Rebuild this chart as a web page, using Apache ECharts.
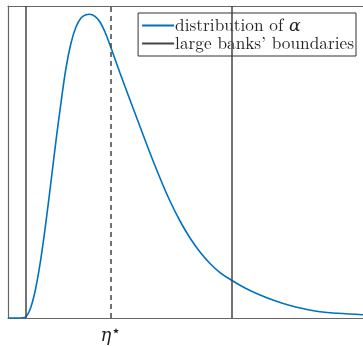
<!DOCTYPE html>
<html>
<head>
<meta charset="utf-8">
<script src="https://cdn.jsdelivr.net/npm/echarts@6/dist/echarts.min.js"></script>
<style>
  html, body { margin: 0; padding: 0; background: #fff; }
  #chart { width: 363px; height: 346px; }
</style>
</head>
<body>
<div id="chart"></div>
<script>
// Density of alpha (normalised units)
const alphaX = [0, 0.0282, 0.0394, 0.0507, 0.0648, 0.0789, 0.0930, 0.1070, 0.1211, 0.1352, 0.1493, 0.1634, 0.1775, 0.1915, 0.2056, 0.2197, 0.2290, 0.2451, 0.2592, 0.2732, 0.2873, 0.3014, 0.3155, 0.3437, 0.3718, 0.4000, 0.4282, 0.4563, 0.4845, 0.5127, 0.5408, 0.5690, 0.5972, 0.6310, 0.6676, 0.7099, 0.7521, 0.7944, 0.8366, 0.8789, 0.9268, 1.0];
const alphaDensity = [0, 0, 0.0006, 0.0042, 0.0362, 0.1003, 0.1933, 0.3087, 0.4369, 0.5683, 0.6901, 0.8013, 0.8814, 0.9327, 0.9615, 0.9721, 0.9734, 0.9670, 0.9487, 0.9167, 0.8750, 0.8301, 0.7853, 0.6987, 0.6138, 0.5288, 0.4487, 0.3750, 0.3109, 0.2564, 0.2115, 0.1747, 0.1458, 0.1202, 0.0962, 0.0737, 0.0554, 0.0401, 0.0288, 0.0202, 0.0151, 0.0106];
// Large banks' boundaries and threshold eta*
const boundaries = [0.050, 0.630];
const etaStar = 0.287;
const seriesNames = ['distribution of \u03b1', 'large banks\u2019 boundaries'];

const chart = echarts.init(document.getElementById('chart'), null, { renderer: 'canvas' });

const densityData = alphaX.map((x, i) => [x, alphaDensity[i]]);

const axisColor = '#666';
const serif = '"Latin Modern Roman", "DejaVu Serif", "Liberation Serif", serif';

chart.setOption({
  animation: false,
  grid: { left: 8, top: 6, right: 0, bottom: 28, containLabel: false },
  xAxis: [
    {
      type: 'value', min: 0, max: 1,
      axisLine: { show: true, lineStyle: { color: axisColor, width: 1.2 } },
      axisTick: { show: false }, axisLabel: { show: false }, splitLine: { show: false }
    },
    {
      type: 'value', min: 0, max: 1, position: 'top',
      axisLine: { show: true, onZero: false, lineStyle: { color: axisColor, width: 1.2 } },
      axisTick: { show: false }, axisLabel: { show: false }, splitLine: { show: false }
    }
  ],
  yAxis: {
    type: 'value', min: 0, max: 1,
    axisLine: { show: true, lineStyle: { color: axisColor, width: 1.2 } },
    axisTick: { show: false }, axisLabel: { show: false }, splitLine: { show: false }
  },
  legend: {
    right: 7, top: 13,
    orient: 'vertical',
    itemWidth: 32, itemHeight: 2, itemGap: 1,
    padding: [4, 2, 4, 4],
    borderColor: '#333', borderWidth: 1, backgroundColor: '#fff',
    formatter: name => name.replace('\u03b1', '{i|\u03b1}'),
    textStyle: {
      fontFamily: serif, fontSize: 17.3, color: '#222', padding: [0, 0, 0, -4],
      rich: { i: { fontFamily: serif, fontStyle: 'italic', fontSize: 17.3, color: '#222' } }
    },
    data: [
      { name: seriesNames[0], icon: 'rect', itemStyle: { color: '#0072BD' } },
      { name: seriesNames[1], icon: 'rect', itemStyle: { color: '#444' } }
    ]
  },
  series: [
    {
      name: seriesNames[0], type: 'line', data: densityData,
      showSymbol: false, symbol: 'none', smooth: 0.4,
      lineStyle: { color: '#0072BD', width: 1.6 },
      itemStyle: { color: '#0072BD' },
      z: 3,
      markLine: {
        silent: true, symbol: 'none',
        lineStyle: { color: '#444', type: [5, 4], width: 1.5 },
        label: {
          show: true, position: 'start', distance: 5,
          formatter: '{e|\u03b7}{s|\u22c6}',
          rich: {
            e: { fontFamily: serif, fontStyle: 'italic', fontSize: 18, color: '#222' },
            s: { fontFamily: serif, fontSize: 16, color: '#222', verticalAlign: 'top', padding: [0, 0, 9, 0] }
          }
        },
        data: [{ xAxis: etaStar }]
      }
    },
    {
      name: seriesNames[1], type: 'line', data: [],
      symbol: 'none',
      lineStyle: { color: '#444', width: 1.5 },
      itemStyle: { color: '#444' },
      markLine: {
        silent: true, symbol: 'none',
        lineStyle: { color: '#444', type: 'solid', width: 1.5 },
        label: { show: false },
        data: boundaries.map(b => ({ xAxis: b }))
      }
    }
  ]
});
</script>
</body>
</html>
